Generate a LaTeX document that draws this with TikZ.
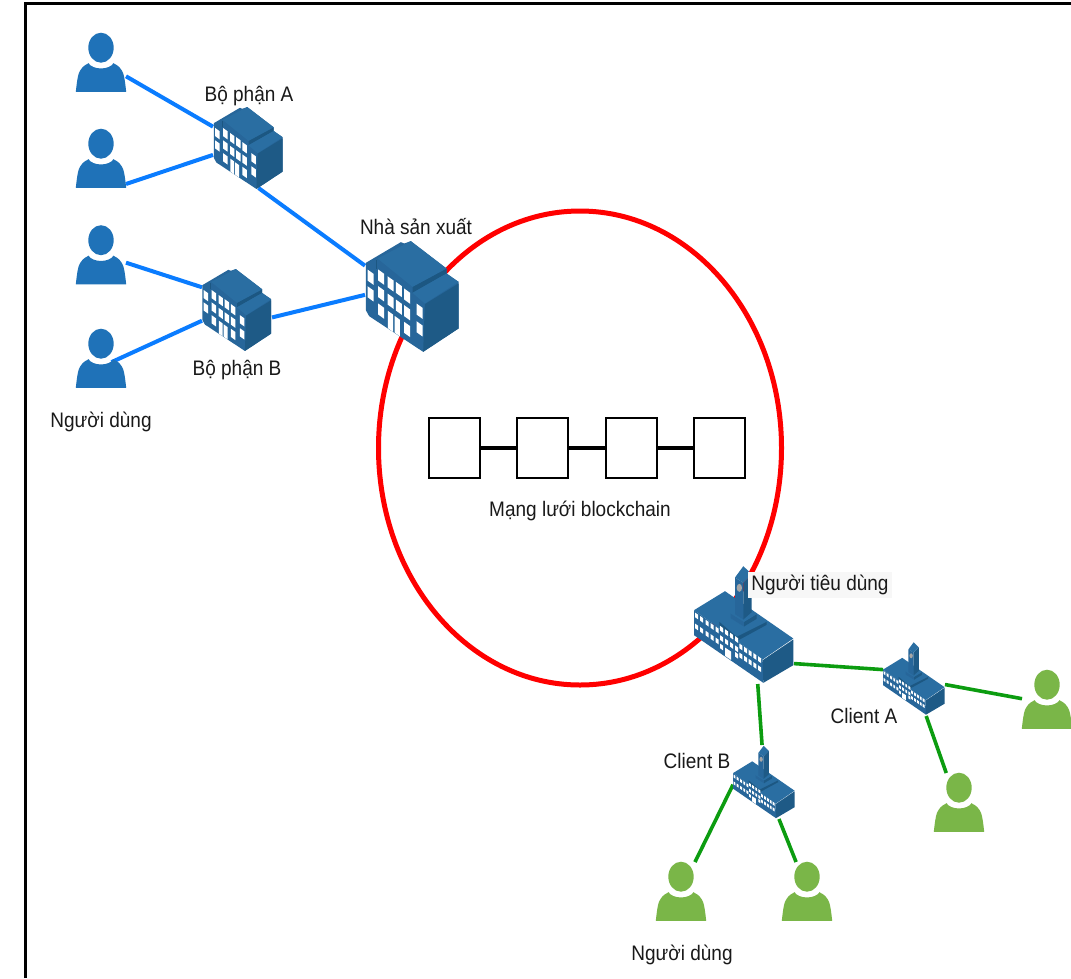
\documentclass[tikz,border=0pt]{standalone}
\usepackage{fontspec}
\setmainfont[FakeStretch=0.905]{Liberation Sans}
\usetikzlibrary{shapes.geometric}
\definecolor{persblue}{HTML}{1F72B8}
\definecolor{persgreen}{HTML}{7AB648}
\definecolor{linkblue}{HTML}{0A7CFF}
\definecolor{linkgreen}{HTML}{0C9C10}
\definecolor{bldmid}{HTML}{27669A}
\definecolor{bldtop}{HTML}{2A6EA2}
\definecolor{blddark}{HTML}{1E5A86}
\definecolor{bldledge}{HTML}{1C5782}
\newcommand{\bwin}[4]{\fill[white] ({#1},{#2}) -- ++(#3,0.72*#3) -- ++(0,#4) -- ++(-#3,-0.72*#3) -- cycle;}
\tikzset{
  iconbox/.style={inner sep=0pt,outer sep=0pt,minimum width=#1},
  lbl/.style={inner sep=1pt,font=\fontsize{21}{24}\selectfont,text=black!90},
  blue link/.style={draw=linkblue,line width=4pt},
  green link/.style={draw=linkgreen,line width=3.6pt},
  chain box/.style={draw=black,line width=2pt,fill=white,minimum width=51pt,minimum height=60pt,inner sep=0pt},
  chain link/.style={draw=black,line width=4pt},
  pics/person/.style={code={
    \fill[#1] (0,-15.3) ellipse [x radius=12.7pt,y radius=15pt];
    \fill[#1] (-25.2,28.8) .. controls (-24,18) and (-23,10) .. (-20.5,7)
      .. controls (-18,3) and (-15,1.5) .. (-12.5,0.2)
      .. controls (-8,7.2) and (8,7.2) .. (12.5,0.2)
      .. controls (15,1.5) and (18,3) .. (20.5,7)
      .. controls (23,10) and (24,18) .. (25.2,28.8) -- cycle;
  }},
  pics/office/.style={code={
    \begin{scope}[scale=0.3333*#1,shift={(-220,-289)}]
      \fill[bldmid] (80,188) -- (185,126) -- (195,130) -- (215,123) -- (322,205) -- (322,220)
        -- (358,245) -- (358,385) -- (252,455) -- (90,348) -- (80,330) -- cycle;
      \fill[blddark] (257,312) -- (358,250) -- (358,385) -- (252,455) -- cycle;
      \fill[bldledge] (220,260) -- (322,205) -- (322,220) -- (220,278) -- cycle;
      \fill[bldtop] (115,175) -- (215,123) -- (322,205) -- (220,260) -- cycle;
      \fill[bldtop] (220,278) -- (322,220) -- (358,245) -- (257,310) -- cycle;
      \draw[bldledge,line width=0.7pt] (113,180) -- (113,205);
      \bwin{85}{208}{18}{33}\bwin{117}{208}{18}{33}\bwin{145}{228}{18}{33}\bwin{170}{245}{18}{33}\bwin{195}{265}{18}{33}
      \bwin{85}{258}{18}{33}\bwin{117}{258}{18}{33}\bwin{145}{280}{18}{33}\bwin{170}{298}{18}{33}\bwin{195}{315}{18}{33}
      \bwin{117}{310}{18}{33}\bwin{195}{365}{18}{33}
      \bwin{146}{332}{16}{52}\bwin{166}{347}{16}{50}
      \bwin{232}{310}{18}{33}\bwin{232}{363}{18}{33}
    \end{scope}
  }},
  pics/school/.style={code={
    \begin{scope}[scale=0.3333*#1,shift={(-192,-213)}]
      \fill[bldmid] (42,170) -- (248,318) -- (250,388) -- (42,245) -- cycle;
      \fill[blddark] (248,320) -- (340,258) -- (340,335) -- (250,388) -- cycle;
      \fill[bldtop] (42,170) -- (135,113) -- (340,255) -- (248,318) -- cycle;
      \fill[bldledge] (118,205) -- (170,250) -- (260,205) -- (260,214) -- (172,262) -- (118,215) -- cycle;
      \fill[bldmid] (152,180) -- (152,194) -- (192,219) -- (192,205) -- cycle;
      \fill[blddark] (192,205) -- (192,219) -- (230,196) -- (230,182) -- cycle;
      \fill[bldtop] (152,180) -- (190,160) -- (230,182) -- (192,205) -- cycle;
      \fill[bldmid] (165,72) -- (190,88) -- (190,198) -- (165,182) -- cycle;
      \fill[blddark] (190,88) -- (215,62) -- (215,176) -- (190,198) -- cycle;
      \fill[bldtop] (165,72) -- (190,38) -- (215,62) -- (190,88) -- cycle;
      \fill[black!35] (178,103) ellipse [x radius=8,y radius=12];
      \foreach \xx in {45,60,77,92,107} {
        \bwin{\xx}{177+0.68*(\xx-45)}{9}{14}
        \bwin{\xx}{210+0.68*(\xx-45)}{9}{14}
      }
      \foreach \xx in {120,135,150,165} {
        \bwin{\xx}{217+0.68*(\xx-120)}{9}{14}
        \bwin{\xx}{245+0.68*(\xx-120)}{9}{14}
      }
      \bwin{120}{270}{9}{14}\bwin{165}{295}{9}{14}
      \fill[white] (135,282) -- (153,294) -- (153,319) -- (135,307) -- cycle;
      \foreach \xx in {178,192,206,220,234} {
        \bwin{\xx}{270+0.68*(\xx-178)}{9}{14}
        \bwin{\xx}{297+0.68*(\xx-178)}{9}{14}
      }
    \end{scope}
  }}
}
\begin{document}
\begin{tikzpicture}[x=1pt,y=-1pt]
\useasboundingbox (0,0) rectangle (1071,978);
\fill[white] (0,0) rectangle (1071,978);
\draw[black,line width=3pt] (25.5,978) -- (25.5,3.5) -- (1071,3.5);
% network
\node[ellipse,draw=red,line width=5pt,minimum width=403pt,minimum height=474pt,inner sep=0pt] (net) at (580,448) {};
% icon place holders
\node[iconbox=50pt,minimum height=60pt] (u1) at (101,63) {};
\node[iconbox=50pt,minimum height=60pt] (u2) at (101,159) {};
\node[iconbox=50pt,minimum height=60pt] (u3) at (101,255.5) {};
\node[iconbox=50pt,minimum height=60pt] (u4) at (101,359) {};
\node[iconbox=71pt,minimum height=80pt] (depA) at (248.5,148) {};
\node[iconbox=70pt,minimum height=79pt] (depB) at (237,310) {};
\node[iconbox=95pt,minimum height=111pt] (maker) at (412.5,296.5) {};
\node[iconbox=100pt,minimum height=119pt] (cons) at (744,624.5) {};
\node[iconbox=62pt,minimum height=75pt] (cliA) at (914,678.5) {};
\node[iconbox=62pt,minimum height=74pt] (cliB) at (764,782) {};
\node[iconbox=50pt,minimum height=60pt] (g1) at (1047,700) {};
\node[iconbox=50pt,minimum height=60pt] (g2) at (959,803) {};
\node[iconbox=50pt,minimum height=60pt] (g3) at (681,892) {};
\node[iconbox=50pt,minimum height=60pt] (g4) at (807,892) {};
% blue links
\draw[blue link] (u1.-28.3) -- (depA.149.4);
\draw[blue link] (u2.-45) -- (depA.191.2);
\draw[blue link] (depA.-76.6) -- (maker.147);
\draw[blue link] (u3.-16.7) -- (depB.147.1);
\draw[blue link,shorten <=-16pt] (u4.8) -- (depB.197);
\draw[blue link] (depB.-12.9) -- (maker.178.2);
% green links
\draw[green link] (cons.-38.3) -- (cliA.164.7);
\draw[green link] (cons.-77) -- (cliB.93.1);
\draw[green link] (cliA.-11.1) -- (g1.177.7);
\draw[green link] (cliA.-72.7) -- (g2.113.2);
\draw[green link] (cliB.185.2) -- (g3.65);
\draw[green link] (cliB.-68.2) -- (g4.110.1);
% icons
\pic at (u1) {person=persblue};
\pic at (u2) {person=persblue};
\pic at (u3) {person=persblue};
\pic at (u4) {person=persblue};
\pic at (g1) {person=persgreen};
\pic at (g2) {person=persgreen};
\pic at (g3) {person=persgreen};
\pic at (g4) {person=persgreen};
\pic at (depA) {office=0.74};
\pic at (depB) {office=0.74};
\pic at (maker) {office=1};
\pic at (cons) {school=1};
\pic at (cliA) {school=0.62};
\pic at (cliB) {school=0.62};
% chain
\node[chain box] (b1) at (454.5,448) {};
\node[chain box] (b2) at (542.5,448) {};
\node[chain box] (b3) at (631.5,448) {};
\node[chain box] (b4) at (719.5,448) {};
\draw[chain link] (b1) -- (b2);
\draw[chain link] (b2) -- (b3);
\draw[chain link] (b3) -- (b4);
% labels
\node[lbl] (tA) at (249,96) {Bộ phận A};
\node[lbl] (tM) at (416,227) {Nhà sản xuất};
\node[lbl] (tB) at (237,370) {Bộ phận B};
\node[lbl] (tU1) at (101,422) {Người dùng};
\node[lbl] (tN) at (580,511) {Mạng lưới blockchain};
\node[lbl,fill=black!3,inner sep=3pt] (tC) at (820,585) {Người tiêu dùng};
\node[lbl] (tCA) at (864,716) {Client A};
\node[lbl] (tCB) at (697,761) {Client B};
\node[lbl] (tU2) at (682,955) {Người dùng};
\end{tikzpicture}
\end{document}
